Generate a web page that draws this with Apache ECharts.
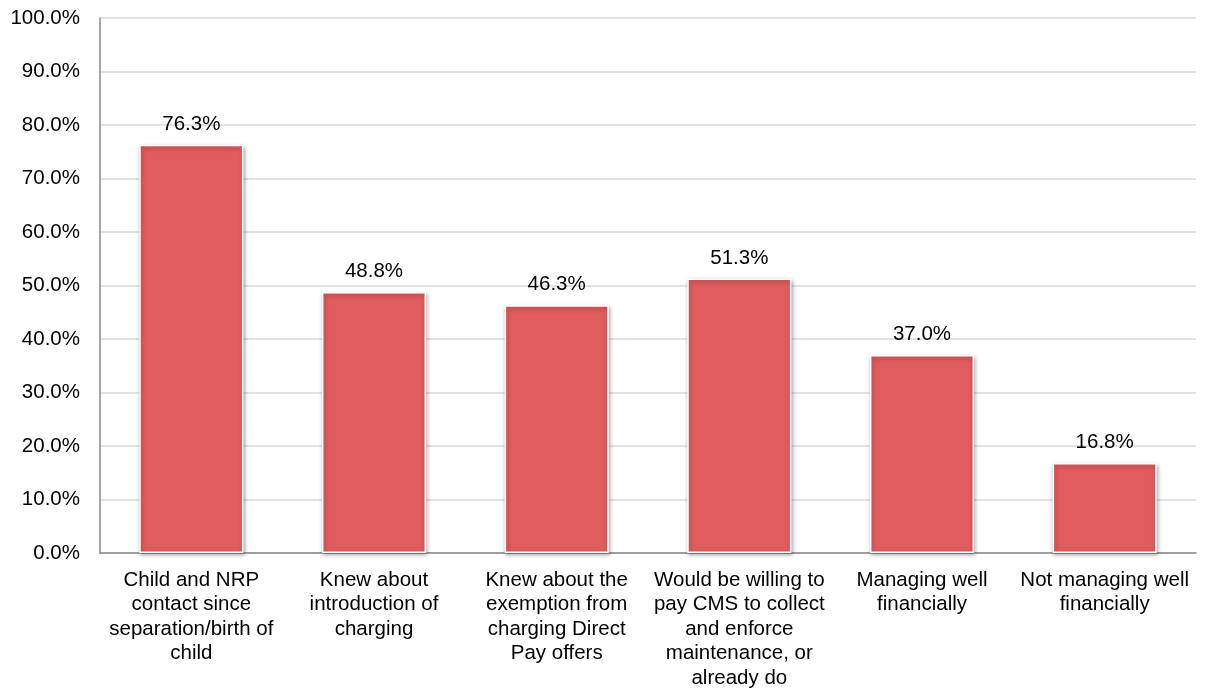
<!DOCTYPE html>
<html>
<head>
<meta charset="utf-8">
<script src="https://cdn.jsdelivr.net/npm/echarts@6/dist/echarts.min.js"></script>
<style>
  html, body { margin: 0; padding: 0; background: #fff; }
  #chart { width: 1212px; height: 691px; }
</style>
</head>
<body>
<div id="chart"></div>
<script>
// Survey measures, share of respondents (%)
const categories = [
  'Child and NRP\ncontact since\nseparation/birth of\nchild',
  'Knew about\nintroduction of\ncharging',
  'Knew about the\nexemption from\ncharging Direct\nPay offers',
  'Would be willing to\npay CMS to collect\nand enforce\nmaintenance, or\nalready do',
  'Managing well\nfinancially',
  'Not managing well\nfinancially'
];
const shares = [76.3, 48.8, 46.3, 51.3, 37.0, 16.8];
const yTicks = { min: 0, max: 100, interval: 10 };

const font = '"Liberation Sans", Arial, sans-serif';
const chart = echarts.init(document.getElementById('chart'), null, { renderer: 'canvas' });
chart.setOption({
  animation: false,
  grid: { left: 100, right: 16, top: 18, bottom: 138 },
  xAxis: {
    type: 'category',
    data: categories,
    axisLine: { lineStyle: { color: '#898989', width: 1.5 } },
    axisTick: { show: false },
    axisLabel: {
      interval: 0, color: '#000', fontFamily: font, fontSize: 20.5,
      lineHeight: 24.5, margin: 15, align: 'center'
    }
  },
  yAxis: {
    type: 'value',
    min: yTicks.min, max: yTicks.max, interval: yTicks.interval,
    axisLine: { show: true, lineStyle: { color: '#898989', width: 1.5 } },
    axisTick: { show: false },
    splitLine: { lineStyle: { color: '#d9d9d9', width: 1.5 } },
    axisLabel: {
      color: '#000', fontFamily: font, fontSize: 20.5, margin: 20,
      formatter: v => v.toFixed(1) + '%'
    }
  },
  series: [{
    type: 'bar',
    data: shares,
    barWidth: '57%',
    itemStyle: {
      color: '#e05c5e',
      borderColor: '#ffffff',
      borderWidth: 1.5,
      shadowColor: 'rgba(0,0,0,0.35)',
      shadowBlur: 4,
      shadowOffsetX: 1,
      shadowOffsetY: 2
    },
    label: {
      show: true, position: 'top', distance: 10,
      color: '#000', fontFamily: font, fontSize: 20.5,
      formatter: p => p.value.toFixed(1) + '%'
    }
  }]
});
</script>
</body>
</html>
